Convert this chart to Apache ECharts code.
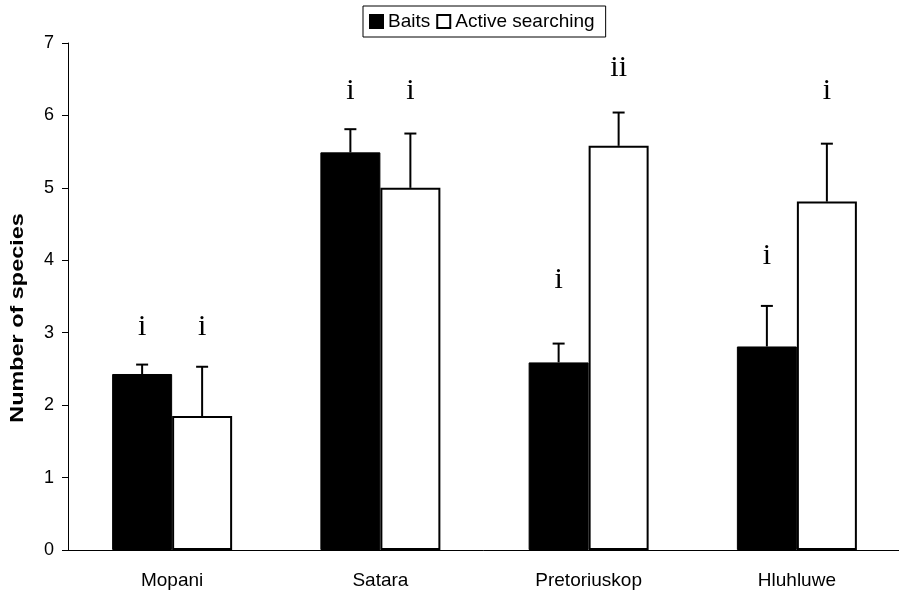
<!DOCTYPE html>
<html>
<head>
<meta charset="utf-8">
<script src="https://cdn.jsdelivr.net/npm/echarts@6/dist/echarts.min.js"></script>
<style>html,body{margin:0;padding:0;background:#fff;}#c{width:899px;height:595px;}</style>
</head>
<body>
<div id="c"></div>
<script>
const categories = ['Mopani', 'Satara', 'Pretoriuskop', 'Hluhluwe'];
const seriesNames = ['Baits', 'Active searching'];
const baits = [2.43, 5.49, 2.59, 2.81];
const baitsErrTop = [2.56, 5.81, 2.85, 3.37];
const active = [1.85, 5.00, 5.58, 4.81];
const activeErrTop = [2.53, 5.75, 6.04, 5.61];
const baitsLetters = ['i', 'i', 'i', 'i'];
const baitsLetterPos = [3.08, 6.33, 3.73, 4.06];
const activeLetters = ['i', 'i', 'ii', 'i'];
const activeLetterPos = [3.08, 6.33, 6.66, 6.33];
const yTicks = [0, 1, 2, 3, 4, 5, 6, 7];
const yTitle = 'Number of species';

const BAR_W = 60;
const chart = echarts.init(document.getElementById('c'), null, {renderer: 'canvas'});

function errSeries(vals, tops, dir) {
  return {
    type: 'custom',
    silent: true,
    z: 5,
    data: vals.map((v, i) => [i, v, tops[i]]),
    renderItem: function (params, api) {
      const base = api.coord([api.value(0), api.value(1)]);
      const top = api.coord([api.value(0), api.value(2)]);
      const x = base[0] + dir * BAR_W / 2;
      return {
        type: 'group',
        children: [
          {type: 'line', shape: {x1: x, y1: base[1], x2: x, y2: top[1]}, style: {stroke: '#000', lineWidth: 2}},
          {type: 'line', shape: {x1: x - 6, y1: top[1], x2: x + 6, y2: top[1]}, style: {stroke: '#000', lineWidth: 2}}
        ]
      };
    }
  };
}
function letterSeries(letters, pos, dir) {
  return {
    type: 'custom',
    silent: true,
    z: 6,
    data: pos.map((v, i) => [i, v]),
    renderItem: function (params, api) {
      const p = api.coord([api.value(0), api.value(1)]);
      return {
        type: 'text',
        x: p[0] + dir * BAR_W / 2,
        y: p[1],
        style: {
          text: letters[params.dataIndex],
          fill: '#000',
          font: '30px "Liberation Serif"',
          align: 'center',
          verticalAlign: 'middle'
        }
      };
    }
  };
}

chart.setOption({
  animation: false,
  backgroundColor: '#fff',
  grid: {left: 68, right: -2, top: 43, bottom: 45, containLabel: false, outerBoundsMode: 'none'},
  legend: {
    data: seriesNames,
    left: 363,
    top: 6,
    padding: [6, 11, 6, 6],
    itemGap: 6,
    itemWidth: 13,
    itemHeight: 13,
    icon: 'rect',
    borderColor: '#000',
    borderWidth: 1,
    textStyle: {fontFamily: 'Liberation Sans', fontSize: 19, color: '#000'}
  },
  graphic: [{
    type: 'text',
    x: 18,
    y: 318,
    rotation: Math.PI / 2,
    scaleX: 1.3,
    style: {
      text: yTitle,
      font: 'bold 18px "Liberation Sans"',
      fill: '#000',
      align: 'center',
      verticalAlign: 'middle'
    }
  }],
  xAxis: {
    type: 'category',
    data: categories,
    axisLine: {lineStyle: {color: '#000', width: 1}},
    axisTick: {length: 6, lineStyle: {color: '#000'}},
    axisLabel: {fontFamily: 'Liberation Sans', fontSize: 19, color: '#000', margin: 21}
  },
  yAxis: {
    type: 'value',
    min: 0,
    max: 7,
    interval: 1,
    splitLine: {show: false},
    axisLine: {show: true, lineStyle: {color: '#000', width: 1}},
    axisTick: {show: true, length: 6, lineStyle: {color: '#000'}},
    axisLabel: {fontFamily: 'Liberation Sans', fontSize: 18, color: '#000', margin: 14,
      formatter: v => yTicks.includes(v) ? String(v) : ''}
  },
  series: [
    {name: seriesNames[0], type: 'bar', data: baits, barWidth: BAR_W, barGap: '0%',
      itemStyle: {color: '#000', borderColor: '#000', borderWidth: 1}},
    {name: seriesNames[1], type: 'bar', data: active, barWidth: BAR_W, barGap: '0%',
      itemStyle: {color: '#fff', borderColor: '#000', borderWidth: 2}},
    errSeries(baits, baitsErrTop, -1),
    errSeries(active, activeErrTop, 1),
    letterSeries(baitsLetters, baitsLetterPos, -1),
    letterSeries(activeLetters, activeLetterPos, 1)
  ]
});
</script>
</body>
</html>
